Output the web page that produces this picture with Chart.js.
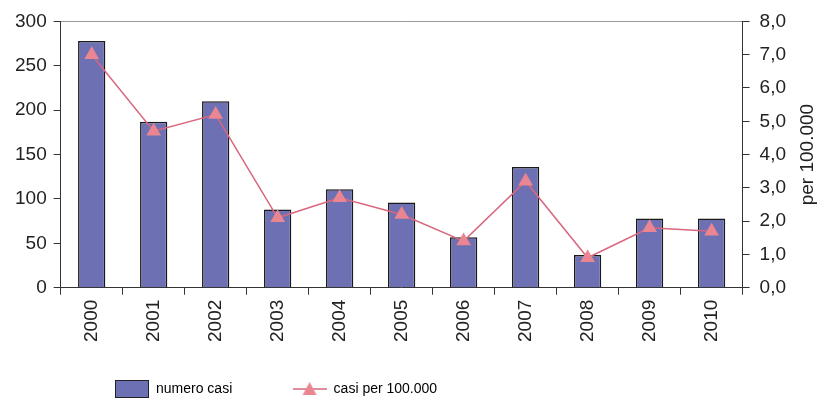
<!DOCTYPE html>
<html>
<head>
<meta charset="utf-8">
<script src="https://cdn.jsdelivr.net/npm/chart.js@4"></script>
<style>
  body { margin: 0; background: #fff; }
  canvas { display: block; }
</style>
</head>
<body>
<canvas id="myChart" width="824" height="398"></canvas>
<script>
var anni = ["2000", "2001", "2002", "2003", "2004", "2005", "2006", "2007", "2008", "2009", "2010"];
var numeroCasi = [278, 187, 210, 88, 111, 96, 57, 136, 37, 78, 78];
var casiPer100000 = [7.0, 4.7, 5.2, 2.1, 2.7, 2.2, 1.4, 3.2, 0.9, 1.8, 1.7];
var labelBarre = "numero casi";
var labelLinea = "casi per 100.000";
var titoloDestra = "per 100.000";

var barColor = '#6d70b2';
var lineColor = '#d9677e';
var markColor = '#ea8592';

// legend swatches as small canvases
function swatchBar() {
  var c = document.createElement('canvas');
  c.width = 34; c.height = 18;
  var g = c.getContext('2d');
  g.fillStyle = barColor;
  g.fillRect(0, 0, 34, 18);
  g.strokeStyle = '#222';
  g.lineWidth = 1;
  g.strokeRect(0.5, 0.5, 33, 17);
  return c;
}
function swatchLine() {
  var c = document.createElement('canvas');
  c.width = 34; c.height = 18;
  var g = c.getContext('2d');
  g.strokeStyle = lineColor;
  g.lineWidth = 1.5;
  g.beginPath(); g.moveTo(0, 9); g.lineTo(34, 9); g.stroke();
  g.fillStyle = markColor;
  g.beginPath(); g.moveTo(17, 2); g.lineTo(24, 15); g.lineTo(10, 15); g.closePath(); g.fill();
  return c;
}

// right axis title reads bottom to top
var rightTitle = {
  id: 'rightTitle',
  afterLayout: function (chart) {
    // legend starts under the left part of the plot, not centred
    chart.legend.left = 113;
  },
  afterDraw: function (chart) {
    var s = chart.scales.y2;
    var ctx = chart.ctx;
    ctx.save();
    ctx.translate(808, (s.top + s.bottom) / 2);
    ctx.rotate(-Math.PI / 2);
    ctx.font = '19px "Liberation Sans", Arial, sans-serif';
    ctx.fillStyle = '#222';
    ctx.textAlign = 'center';
    ctx.textBaseline = 'middle';
    ctx.fillText(titoloDestra, 0, 0);
    ctx.restore();
  }
};

var font = { family: '"Liberation Sans", Arial, sans-serif', size: 19 };
var gap = '\u00a0'.repeat(15);

var myChart = new Chart(document.getElementById('myChart'), {
  type: 'bar',
  data: {
    labels: anni,
    datasets: [{
      type: 'line',
      label: labelLinea,
      data: casiPer100000,
      yAxisID: 'y2',
      borderColor: lineColor,
      borderWidth: 1.5,
      pointStyle: 'triangle',
      pointRadius: 7,
      pointBackgroundColor: markColor,
      pointBorderColor: markColor,
      tension: 0,
      order: 0
    }, {
      label: labelBarre,
      data: numeroCasi,
      yAxisID: 'y',
      backgroundColor: barColor,
      borderColor: '#1a1a1a',
      borderWidth: 1.5,
      categoryPercentage: 0.88,
      barPercentage: 0.5,
      order: 1
    }]
  },
  options: {
    responsive: false,
    animation: false,
    layout: { padding: { left: 8, right: 28, top: 17, bottom: -8 } },
    plugins: {
      tooltip: { enabled: false },
      legend: {
        position: 'bottom',
        align: 'start',
        labels: {
          usePointStyle: true,
          pointStyleWidth: 34,
          boxHeight: 18,
          padding: 2,
          color: '#222',
          font: { family: '"Liberation Sans", Arial, sans-serif', size: 14 },
          generateLabels: function (chart) {
            return [
              { text: labelBarre + gap, pointStyle: swatchBar(), datasetIndex: 1, fillStyle: barColor, strokeStyle: '#222', lineWidth: 0 },
              { text: labelLinea, pointStyle: swatchLine(), datasetIndex: 0, fillStyle: markColor, strokeStyle: lineColor, lineWidth: 0 }
            ];
          }
        }
      }
    },
    scales: {
      x: {
        offset: true,
        grid: { offset: true, drawOnChartArea: false, tickLength: 7, tickColor: '#333' },
        border: { color: '#333', width: 1 },
        ticks: { minRotation: 90, maxRotation: 90, color: '#222', font: font, padding: 5 },
        afterFit: function (scale) { scale.height += 33; }
      },
      y: {
        position: 'left',
        min: 0, max: 300,
        ticks: { stepSize: 50, color: '#222', font: font, padding: 7 },
        grid: {
          tickLength: 7,
          tickColor: '#333',
          color: function (c) { return c.tick && c.tick.value === 300 ? '#999' : 'rgba(0,0,0,0)'; }
        },
        border: { color: '#333', width: 1 }
      },
      y2: {
        position: 'right',
        min: 0, max: 8,
        ticks: {
          stepSize: 1, color: '#222', font: font, padding: 10,
          callback: function (v) { return v.toFixed(1).replace('.', ','); }
        },
        grid: { drawOnChartArea: false, tickLength: 7, tickColor: '#333' },
        border: { color: '#333', width: 1 }
      }
    }
  },
  plugins: [rightTitle]
});
</script>
</body>
</html>
